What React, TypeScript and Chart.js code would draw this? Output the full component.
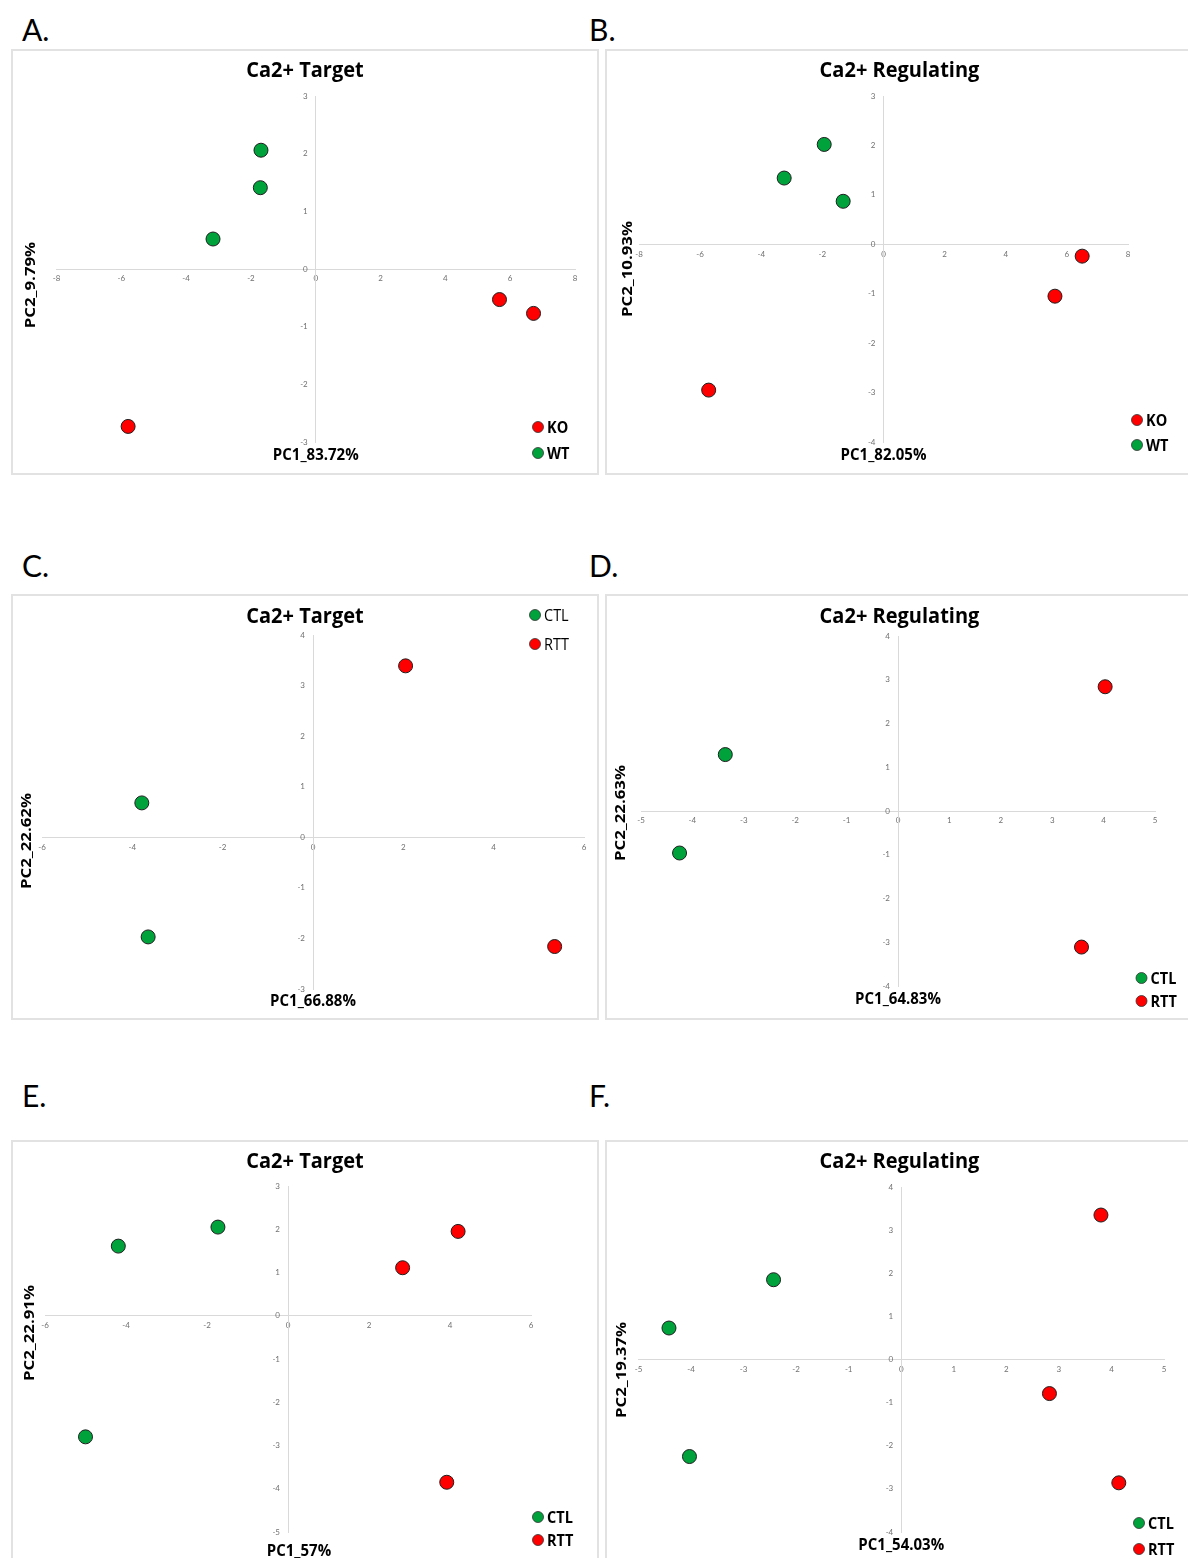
import React, { useEffect, useRef } from "react";
import { Chart, registerables } from "chart.js";

Chart.register(...registerables);
Chart.defaults.font.family = "Lato, 'Open Sans', sans-serif";

const GREEN = "#00a23c";
const RED = "#ff0000";

// ---------- Panel A: Ca2+ Target (KO / WT) ----------
const aKO_x = [5.67, 6.72, -5.79];
const aKO_y = [-0.53, -0.77, -2.73];
const aWT_x = [-1.69, -1.71, -3.17];
const aWT_y = [2.06, 1.41, 0.52];
const aXRange = [-8, 8, 2];
const aYRange = [-3, 3, 1];

// ---------- Panel B: Ca2+ Regulating (KO / WT) ----------
const bKO_x = [6.5, 5.61, -5.72];
const bKO_y = [-0.24, -1.05, -2.95];
const bWT_x = [-1.94, -3.25, -1.32];
const bWT_y = [2.02, 1.34, 0.87];
const bXRange = [-8, 8, 2];
const bYRange = [-4, 3, 1];

// ---------- Panel C: Ca2+ Target (CTL / RTT) ----------
const cCTL_x = [-3.79, -3.65];
const cCTL_y = [0.68, -1.97];
const cRTT_x = [2.05, 5.35];
const cRTT_y = [3.39, -2.16];
const cXRange = [-6, 6, 2];
const cYRange = [-3, 4, 1];

// ---------- Panel D: Ca2+ Regulating (CTL / RTT) ----------
const dCTL_x = [-3.36, -4.25];
const dCTL_y = [1.29, -0.96];
const dRTT_x = [4.03, 3.57];
const dRTT_y = [2.84, -3.11];
const dXRange = [-5, 5, 1];
const dYRange = [-4, 4, 1];

// ---------- Panel E: Ca2+ Target (CTL / RTT) ----------
const eCTL_x = [-4.19, -1.73, -5.0];
const eCTL_y = [1.61, 2.05, -2.8];
const eRTT_x = [4.2, 2.83, 3.92];
const eRTT_y = [1.95, 1.11, -3.85];
const eXRange = [-6, 6, 2];
const eYRange = [-5, 3, 1];

// ---------- Panel F: Ca2+ Regulating (CTL / RTT) ----------
const fCTL_x = [-2.43, -4.42, -4.03];
const fCTL_y = [1.85, 0.73, -2.25];
const fRTT_x = [3.8, 2.82, 4.14];
const fRTT_y = [3.35, -0.79, -2.86];
const fXRange = [-5, 5, 1];
const fYRange = [-4, 4, 1];

type Series = { name: string; color: string; x: number[]; y: number[] };
type PanelCfg = {
  letter: string;
  letterPos: [number, number];
  box: [number, number, number, number];
  pad: { left: number; top: number; right: number; bottom: number };
  title: string;
  titleY: number;
  xTitle: string;
  xTitleDy: number;
  xTitleDx: number;
  yTitle: string;
  yTitlePos: [number, number];
  xRange: number[];
  yRange: number[];
  series: Series[];
  legendPos: [number, number];
  legendGap: number;
  legendBold: boolean;
};

const panels: PanelCfg[] = [
  {
    letter: "A.", letterPos: [22, 12], box: [11, 49, 588, 426],
    pad: { left: 45.5, top: 47, right: 24, bottom: 33 },
    title: "Ca2+ Target", titleY: 22,
    xTitle: "PC1_83.72%", xTitleDy: 13, xTitleDx: 0,
    yTitle: "PC2_9.79%", yTitlePos: [20, 236],
    xRange: aXRange, yRange: aYRange,
    series: [
      { name: "KO", color: RED, x: aKO_x, y: aKO_y },
      { name: "WT", color: GREEN, x: aWT_x, y: aWT_y },
    ],
    legendPos: [527, 378], legendGap: 26, legendBold: true,
  },
  {
    letter: "B.", letterPos: [589, 12], box: [605, 49, 589, 426],
    pad: { left: 34, top: 47, right: 66, bottom: 33 },
    title: "Ca2+ Regulating", titleY: 22,
    xTitle: "PC1_82.05%", xTitleDy: 13, xTitleDx: 0,
    yTitle: "PC2_10.93%", yTitlePos: [23, 220],
    xRange: bXRange, yRange: bYRange,
    series: [
      { name: "KO", color: RED, x: bKO_x, y: bKO_y },
      { name: "WT", color: GREEN, x: bWT_x, y: bWT_y },
    ],
    legendPos: [532, 371], legendGap: 25, legendBold: true,
  },
  {
    letter: "C.", letterPos: [22, 548], box: [11, 594, 588, 426],
    pad: { left: 31, top: 41, right: 15, bottom: 31 },
    title: "Ca2+ Target", titleY: 23,
    xTitle: "PC1_66.88%", xTitleDy: 12, xTitleDx: 0,
    yTitle: "PC2_22.62%", yTitlePos: [16, 247],
    xRange: cXRange, yRange: cYRange,
    series: [
      { name: "CTL", color: GREEN, x: cCTL_x, y: cCTL_y },
      { name: "RTT", color: RED, x: cRTT_x, y: cRTT_y },
    ],
    legendPos: [524, 21], legendGap: 29, legendBold: false,
  },
  {
    letter: "D.", letterPos: [589, 548], box: [605, 594, 589, 426],
    pad: { left: 36, top: 42, right: 39, bottom: 34 },
    title: "Ca2+ Regulating", titleY: 23,
    xTitle: "PC1_64.83%", xTitleDy: 13, xTitleDx: 0,
    yTitle: "PC2_22.63%", yTitlePos: [15.5, 219],
    xRange: dXRange, yRange: dYRange,
    series: [
      { name: "CTL", color: GREEN, x: dCTL_x, y: dCTL_y },
      { name: "RTT", color: RED, x: dRTT_x, y: dRTT_y },
    ],
    legendPos: [536.5, 384], legendGap: 23, legendBold: true,
  },
  {
    letter: "E.", letterPos: [22, 1078], box: [11, 1140, 588, 426],
    pad: { left: 34, top: 46, right: 68, bottom: 34 },
    title: "Ca2+ Target", titleY: 22,
    xTitle: "PC1_57%", xTitleDy: 19, xTitleDx: 11,
    yTitle: "PC2_22.91%", yTitlePos: [19, 193],
    xRange: eXRange, yRange: eYRange,
    series: [
      { name: "CTL", color: GREEN, x: eCTL_x, y: eCTL_y },
      { name: "RTT", color: RED, x: eRTT_x, y: eRTT_y },
    ],
    legendPos: [527, 377], legendGap: 23, legendBold: true,
  },
  {
    letter: "F.", letterPos: [589, 1078], box: [605, 1140, 589, 426],
    pad: { left: 33.5, top: 47, right: 30, bottom: 34 },
    title: "Ca2+ Regulating", titleY: 22,
    xTitle: "PC1_54.03%", xTitleDy: 13, xTitleDx: 0,
    yTitle: "PC2_19.37%", yTitlePos: [17, 230],
    xRange: fXRange, yRange: fYRange,
    series: [
      { name: "CTL", color: GREEN, x: fCTL_x, y: fCTL_y },
      { name: "RTT", color: RED, x: fRTT_x, y: fRTT_y },
    ],
    legendPos: [534, 383], legendGap: 26, legendBold: true,
  },
];

const FONT = "Lato, 'Open Sans', sans-serif";
const BOLD_FONT = "'Open Sans', Lato, sans-serif";

function Panel({ p }: { p: PanelCfg }) {
  const ref = useRef<HTMLCanvasElement>(null);
  useEffect(() => {
    if (!ref.current) return;
    const textPlugin = {
      id: "panelText",
      afterDraw(chart: any) {
        const ctx = chart.ctx as CanvasRenderingContext2D;
        const ca = chart.chartArea;
        ctx.save();
        ctx.fillStyle = "#000";
        ctx.textBaseline = "middle";
        // title
        ctx.font = `bold 20px ${BOLD_FONT}`;
        ctx.textAlign = "center";
        ctx.save();
        ctx.translate(chart.width / 2, p.titleY);
        ctx.scale(1, 1.1);
        ctx.fillText(p.title, 0, 0);
        ctx.restore();
        // x axis title
        ctx.font = `bold 15px ${BOLD_FONT}`;
        ctx.save();
        ctx.translate((ca.left + ca.right) / 2 + p.xTitleDx, ca.bottom + p.xTitleDy);
        ctx.scale(1, 1.1);
        ctx.fillText(p.xTitle, 0, 0);
        ctx.restore();
        // y axis title
        ctx.save();
        ctx.translate(p.yTitlePos[0], p.yTitlePos[1]);
        ctx.rotate(-Math.PI / 2);
        ctx.scale(1.12, 1);
        ctx.fillText(p.yTitle, 0, 0);
        ctx.restore();
        // legend
        ctx.textAlign = "left";
        ctx.font = p.legendBold ? `bold 14.5px ${BOLD_FONT}` : `14.5px ${BOLD_FONT}`;
        chart.data.datasets.forEach((ds: any, i: number) => {
          const cx = p.legendPos[0];
          const cy = p.legendPos[1] + i * p.legendGap;
          ctx.beginPath();
          ctx.arc(cx, cy, 5.5, 0, Math.PI * 2);
          ctx.fillStyle = ds.backgroundColor;
          ctx.fill();
          ctx.lineWidth = 0.8;
          ctx.strokeStyle = "#333";
          ctx.stroke();
          ctx.fillStyle = "#000";
          ctx.save();
          ctx.translate(cx + 9, cy + 1);
          ctx.scale(1, 1.1);
          ctx.fillText(ds.label, 0, 0);
          ctx.restore();
        });
        ctx.restore();
      },
    };
    const tickFont = { size: 8, family: FONT };
    const chart = new Chart(ref.current, {
      type: "scatter",
      data: {
        datasets: p.series.map((s) => ({
          label: s.name,
          data: s.x.map((x, i) => ({ x, y: s.y[i] })),
          backgroundColor: s.color,
          borderColor: "#1f1f1f",
          borderWidth: 1,
          pointRadius: 7,
          pointHoverRadius: 7,
        })),
      },
      options: {
        responsive: false,
        animation: false,
        devicePixelRatio: 1,
        layout: { padding: p.pad },
        plugins: {
          legend: { display: false },
          tooltip: { enabled: false },
          title: { display: false },
        },
        scales: {
          x: {
            type: "linear",
            position: { y: 0 } as any,
            min: p.xRange[0],
            max: p.xRange[1],
            ticks: { stepSize: p.xRange[2], font: tickFont, color: "#707070", padding: 5, maxRotation: 0, autoSkip: false },
            grid: { display: false, drawTicks: false },
            border: { display: true, color: "#d9d9d9", width: 1 },
          },
          y: {
            type: "linear",
            position: { x: 0 } as any,
            min: p.yRange[0],
            max: p.yRange[1],
            ticks: {
              stepSize: p.yRange[2],
              font: tickFont,
              color: "#707070",
              autoSkip: false,
              callback: (v: any) => `${v}\u2002\u2002`,
            },
            grid: { display: false, drawTicks: false },
            border: { display: true, color: "#d9d9d9", width: 1 },
          },
        },
      },
      plugins: [textPlugin],
    } as any);
    return () => chart.destroy();
  }, [p]);

  const [left, top, w, h] = p.box;
  return (
    <>
      <div
        style={{
          position: "absolute",
          left: p.letterPos[0],
          top: p.letterPos[1],
          fontFamily: FONT,
          fontSize: 30,
          lineHeight: "34px",
          color: "#000",
        }}
      >
        {p.letter}
      </div>
      <div
        style={{
          position: "absolute",
          left,
          top,
          width: w,
          height: h,
          boxSizing: "border-box",
          border: "2px solid #e2e2e2",
        }}
      >
        <canvas ref={ref} width={w} height={h} style={{ position: "absolute", left: -2, top: -2, width: w, height: h }} />
      </div>
    </>
  );
}

export default function App() {
  return (
    <div
      style={{
        position: "absolute",
        left: 0,
        top: 0,
        width: 1188,
        height: 1558,
        overflow: "hidden",
        background: "#fff",
      }}
    >
      {panels.map((p) => (
        <Panel key={p.letter} p={p} />
      ))}
    </div>
  );
}
